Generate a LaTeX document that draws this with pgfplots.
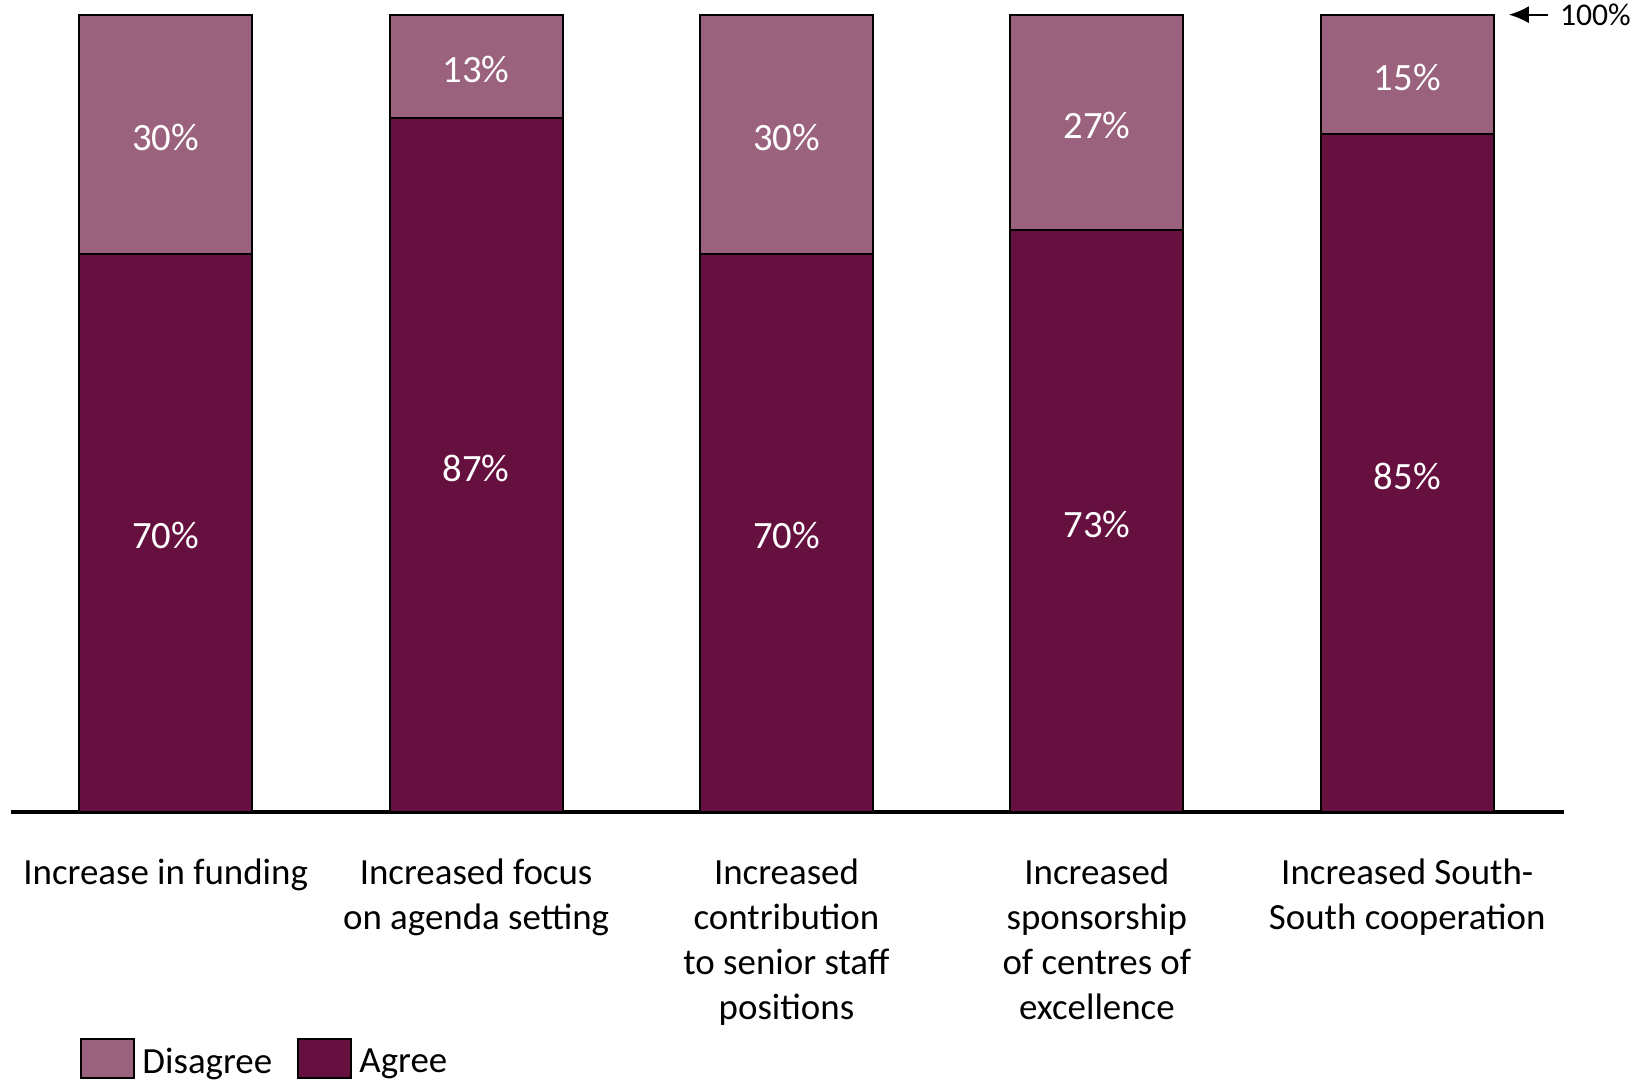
\documentclass[border=0pt]{standalone}
\usepackage{pgfplots}
\pgfplotsset{compat=1.18}
\usetikzlibrary{arrows.meta}
\usepackage{fontspec}
\setmainfont{Carlito}
\definecolor{agree}{RGB}{102,16,63}
\definecolor{disagree}{RGB}{154,98,125}
\begin{document}
\begin{tikzpicture}
\useasboundingbox (-1.05mm,-26.8mm) rectangle (163.25mm,81.2mm);
\begin{axis}[
  at={(0,0)}, anchor=south west,
  scale only axis, width=155.35mm, height=79.73mm,
  ybar stacked, bar width=17.3mm,
  xmin=-0.5, xmax=4.505, ymin=0, ymax=100,
  axis y line=none, axis x line*=bottom,
  x axis line style={line width=0.9pt, -},
  xtick={0,1,2,3,4}, xtick style={draw=none},
  xticklabels={Increase in funding, Increased focus\\on agenda setting, Increased\\contribution\\to senior staff\\positions, Increased\\sponsorship\\of centres of\\excellence, Increased South-\\South cooperation},
  xticklabel style={align=center, font=\fontsize{10.5}{12.8}\selectfont, anchor=north, inner sep=0pt, yshift=-4.6mm},
  clip=false,
  legend columns=2,
  legend style={draw=none, fill=none, at={(0.0445,-0.313)}, anchor=west, inner sep=0pt,
    font=\fontsize{10.5}{12.8}\selectfont,
    /tikz/every even column/.append style={column sep=1.8mm}},
  legend image code/.code={\draw[#1, line width=0.6pt] (0mm,-1.45mm) rectangle (5.3mm,2.45mm);},
]
\addlegendimage{fill=disagree, draw=black}
\addlegendentry{Disagree}
\addlegendimage{fill=agree, draw=black}
\addlegendentry{Agree}
\addplot[fill=agree, draw=black, line width=0.6pt, forget plot] coordinates {(0,70) (1,87) (2,70) (3,73) (4,85)};
\addplot[fill=disagree, draw=black, line width=0.6pt, forget plot] coordinates {(0,30) (1,13) (2,30) (3,27) (4,15)};
\end{axis}
\begin{axis}[
  at={(0,0)}, anchor=south west,
  scale only axis, width=155.35mm, height=79.73mm,
  xmin=-0.5, xmax=4.505, ymin=0, ymax=100,
  hide axis, clip=false,
  every node near coord/.style={anchor=center, yshift=-0.3mm, text=white, font=\fontsize{11}{13}\selectfont},
]
\addplot[draw=none, mark=none, nodes near coords, point meta=explicit symbolic]
  coordinates {(0,35)[70\%] (1,43.5)[87\%] (2,35)[70\%] (3,36.5)[73\%] (4,42.5)[85\%]};
\addplot[draw=none, mark=none, nodes near coords, point meta=explicit symbolic]
  coordinates {(0,85)[30\%] (1,93.5)[13\%] (2,85)[30\%] (3,86.5)[27\%] (4,92.5)[15\%]};
\draw[-{Latex[length=2mm,width=1.7mm]}, line width=0.6pt] (axis cs:4.452,100) -- (axis cs:4.327,100);
\node[anchor=west, inner sep=0pt, font=\fontsize{9}{11}\selectfont] at (axis cs:4.49,100) {100\%};
\end{axis}
\end{tikzpicture}
\end{document}
